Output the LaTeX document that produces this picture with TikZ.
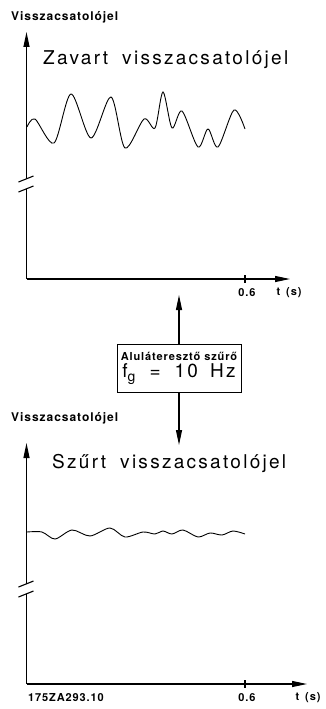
\documentclass[tikz,border=0pt]{standalone}
\usepackage{fontspec}
\setmainfont{TeX Gyre Heros}
\newfontfamily\isofont[LetterSpace=12]{TeX Gyre Heros}
\newfontfamily\labelfont[LetterSpace=8]{TeX Gyre Heros}
\usetikzlibrary{arrows.meta, positioning}

\begin{document}
\begin{tikzpicture}[
    x=1pt, y=-1pt,
    axis/.style={line width=1.1pt, -{Triangle[length=15pt,width=6pt]}},
    axisline/.style={line width=1.1pt},
    signal/.style={line width=0.9pt, smooth, tension=0.5},
    axislabel/.style={font=\labelfont\bfseries\fontsize{12}{14}\selectfont, inner sep=0pt},
    title/.style={font=\isofont\fontsize{19}{21}\selectfont, inner sep=0pt},
    ticklabel/.style={font=\labelfont\bfseries\fontsize{11}{13}\selectfont, inner sep=0pt},
    filterbox/.style={
        rectangle,
        draw,
        line width=0.9pt,
        minimum width=124pt,
        minimum height=48pt,
        align=center,
        inner sep=1pt
    }
]
\useasboundingbox (0,0) rectangle (325,709);

% upper diagram: disturbed signal
\coordinate (o1) at (26.5,279);
\coordinate (ytop1) at (26.5,32);
\coordinate (xend1) at (290,279);
\node[axislabel, anchor=west] (ylab1) at (11,17) {Visszacsatolójel};
\node[title, anchor=west] (title1) at (43,60) {Zavart\hspace{14pt}visszacsatolójel};
\draw[axisline] (o1) -- (26.5,189);
\draw[axis] (26.5,179) -- (ytop1);
\draw[axisline] (18.5,182) -- (33.5,176);
\draw[axisline] (18.5,192) -- (33.5,186);
\draw[axis] (o1) -- (xend1);
\draw[axisline] (245,275) -- (245,283);
\node[ticklabel] (tick1) at (247,293) {0.6};
\node[ticklabel] (tlab1) at (289,293) {t\hspace{6pt}(s)};
\draw[signal] plot coordinates {(27,127) (35,119) (54,143) (71,94) (91,138) (111,97)
    (125,148) (144,119) (155,128) (163,92) (172,128) (182,111) (198,147)
    (208,129) (218,147) (234,110) (245,129)};

% filter between the diagrams
\node[filterbox] (filter) at (179,368)
    {{\labelfont\bfseries\fontsize{11}{13}\selectfont Aluláteresztő\hspace{4pt}szűrő}\\[2pt]
     {\isofont\fontsize{19}{21}\selectfont f\raisebox{-4pt}{\fontsize{14}{14}\selectfont g}\hspace{14pt}=\hspace{14pt}10\hspace{12pt}Hz}};
\coordinate (up) at (179,295);
\coordinate (down) at (179,445);
\draw[axis] (filter.north) -- (up);
\draw[axis] (filter.south) -- (down);

% lower diagram: filtered signal
\coordinate (o2) at (26.5,684);
\coordinate (ytop2) at (26.5,443);
\coordinate (xend2) at (307,684);
\node[axislabel, anchor=west] (ylab2) at (11,418) {Visszacsatolójel};
\node[title, anchor=west] (title2) at (52,463) {Szűrt\hspace{14pt}visszacsatolójel};
\draw[axisline] (o2) -- (26.5,594);
\draw[axis] (26.5,584) -- (ytop2);
\draw[axisline] (18.5,587) -- (33.5,581);
\draw[axisline] (18.5,597) -- (33.5,591);
\draw[axis] (o2) -- (xend2);
\draw[axisline] (245,680) -- (245,688);
\node[ticklabel] (tick2) at (247,698) {0.6};
\node[ticklabel] (tlab2) at (308,698) {t\hspace{6pt}(s)};
\draw[signal] plot coordinates {(27,532) (42,532) (55,539) (72,530) (90,536) (110,528)
    (125,537) (143,532) (155,534) (163,531) (172,534) (183,530) (198,537)
    (210,533) (222,535) (233,531) (245,534)};
\node[ticklabel, anchor=west] (code) at (28,698) {175ZA293.10};

\end{tikzpicture}
\end{document}
